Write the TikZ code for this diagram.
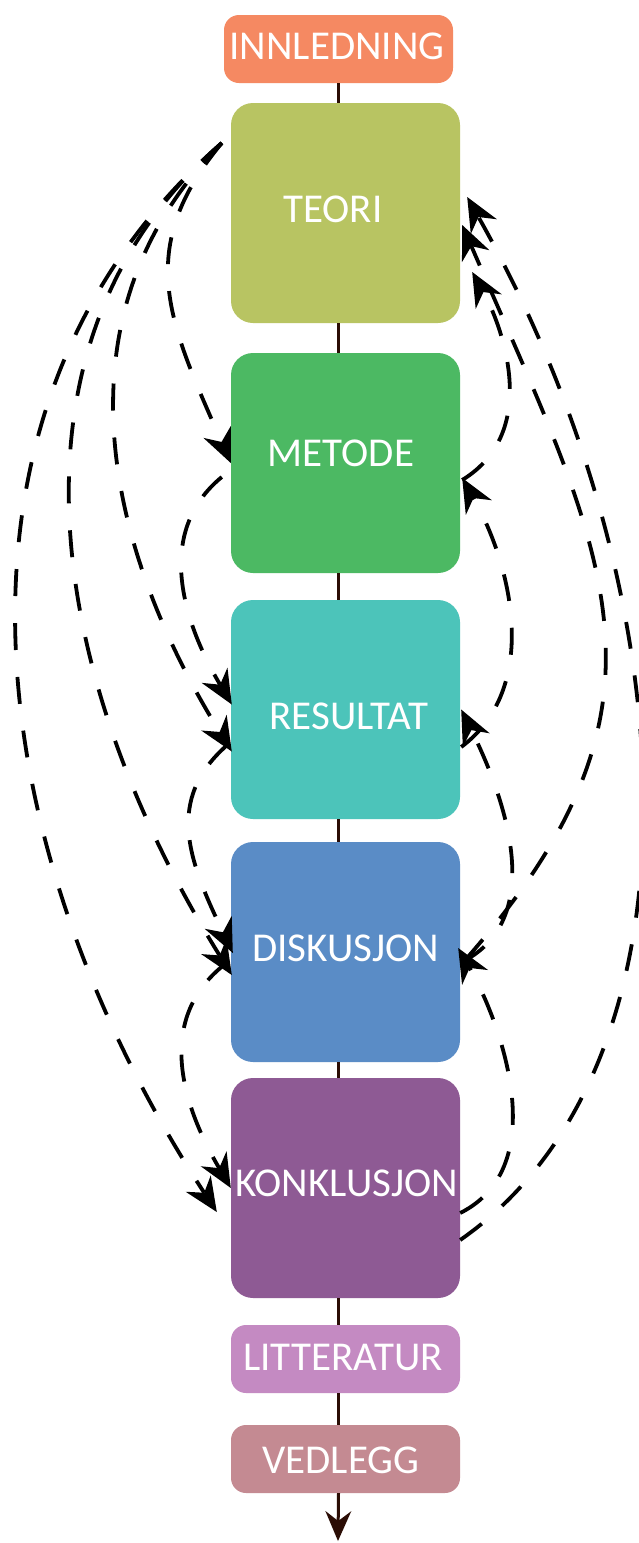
\documentclass[tikz,border=0pt]{standalone}
\usepackage{fontspec}
\setmainfont{Carlito}
\usetikzlibrary{arrows.meta}
\definecolor{cInn}{HTML}{F58962}
\definecolor{cTeo}{HTML}{B8C462}
\definecolor{cMet}{HTML}{4CB963}
\definecolor{cRes}{HTML}{4CC4BA}
\definecolor{cDis}{HTML}{5A8CC6}
\definecolor{cKon}{HTML}{8E5A94}
\definecolor{cLit}{HTML}{C48AC2}
\definecolor{cVed}{HTML}{C48A92}
\definecolor{spinecol}{HTML}{2B0D05}
\newcommand{\boxtext}[3]{\raisebox{#2}{\makebox[0pt]{\hspace*{#1}#3}}}
\begin{document}
\begin{tikzpicture}[x=1pt,y=-1pt,
  chapter/.style={draw=none, rounded corners=22pt, minimum width=229pt, minimum height=220pt,
    inner sep=0pt, text=white, font=\fontsize{41}{41}\selectfont, text height=27pt, text depth=0pt},
  smallbox/.style={chapter, rounded corners=15pt, minimum height=68pt},
  spine/.style={draw=spinecol, line width=3pt},
  link/.style={draw=black, line width=3.8pt, dash pattern=on 27pt off 27pt,
    -{Stealth[length=34pt,width=30pt,inset=11pt,line width=0pt]}}
]
\clip (0,0) rectangle (639,1543);
\fill[white] (0,0) rectangle (639,1543);

% boxes
\node[smallbox, fill=cInn] (innledning) at (338.5,49) {\boxtext{-3pt}{3pt}{INNLEDNING}};
\node[chapter, fill=cTeo] (teori) at (345.5,213) {\boxtext{-25pt}{4.5pt}{TEORI}};
\node[chapter, fill=cMet] (metode) at (345.5,463) {\boxtext{-9pt}{10pt}{METODE}};
\node[chapter, fill=cRes, minimum height=219pt] (resultat) at (345.5,709.5) {\boxtext{7pt}{-6.5pt}{RESULTAT}};
\node[chapter, fill=cDis] (diskusjon) at (345.5,952) {\boxtext{0pt}{4.5pt}{DISKUSJON}};
\node[chapter, fill=cKon] (konklusjon) at (345.5,1188) {\boxtext{2pt}{5.5pt}{KONKLUSJON}};
\node[smallbox, fill=cLit] (litteratur) at (345.5,1359) {\boxtext{-5pt}{2.5pt}{LITTERATUR}};
\node[smallbox, fill=cVed] (vedlegg) at (345.5,1459) {\boxtext{-9pt}{-1pt}{VEDLEGG}};

% spine
\coordinate (bottom) at (338,1541);
\draw[spine] (innledning.south) -- (innledning.south |- teori.north);
\draw[spine] (innledning.south |- teori.south) -- (innledning.south |- metode.north);
\draw[spine] (innledning.south |- metode.south) -- (innledning.south |- resultat.north);
\draw[spine] (innledning.south |- resultat.south) -- (innledning.south |- diskusjon.north);
\draw[spine] (innledning.south |- diskusjon.south) -- (innledning.south |- konklusjon.north);
\draw[spine] (innledning.south |- konklusjon.south) -- (innledning.south |- litteratur.north);
\draw[spine] (innledning.south |- litteratur.south) -- (innledning.south |- vedlegg.north);
\draw[spine, -{Stealth[length=30pt,width=26pt,inset=10pt,line width=0pt]}] (innledning.south |- vedlegg.south) -- (bottom);

% left (forward) links
\draw[link] ([shift={(-9,-70)}]teori.west) .. controls (-80,407) and (-21,848) .. ([shift={(-14,24)}]konklusjon.west);
\draw[link] ([shift={(-9,-70)}]teori.west) .. controls (-9,343) and (47,678) .. ([shift={(1,23)}]diskusjon.west);
\draw[link] ([shift={(-9,-70)}]teori.west) .. controls (55,310) and (101,540) .. ([shift={(1,42)}]resultat.west);
\draw[link] ([shift={(-9,-70)}]teori.west) .. controls (133,250) and (169,322) .. (metode.west);
\draw[link] ([shift={(-9,14)}]metode.west) .. controls (155,532) and (182,620) .. ([shift={(1,-5)}]resultat.west);
\draw[link] ([shift={(-3,35)}]resultat.west) .. controls (164,800) and (189,861) .. ([shift={(2,1)}]diskusjon.west);
\draw[link] ([shift={(-3,10)}]diskusjon.west) .. controls (158,1014) and (177,1096) .. (konklusjon.west);

% right (backward) links
\draw[link] ([shift={(0,25)}]konklusjon.east) .. controls (554,1166) and (500,1021) .. ([shift={(-2,-4)}]diskusjon.east);
\draw[link] ([shift={(0,52)}]konklusjon.east) .. controls (714,1063) and (689,591) .. ([shift={(7,-16)}]teori.east);
\draw[link] ([shift={(2,10)}]diskusjon.east) .. controls (550,917) and (502,792) .. ([shift={(1,0)}]resultat.east);
\draw[link] ([shift={(5,8)}]diskusjon.east) .. controls (693,701) and (606,557) .. ([shift={(2,12)}]teori.east);
\draw[link] ([shift={(1,37.5)}]resultat.east) .. controls (539,689) and (514,570) .. ([shift={(2,15)}]metode.east);
\draw[link] ([shift={(2,17)}]metode.east) .. controls (544,430) and (499,320) .. ([shift={(12,59)}]teori.east);
\end{tikzpicture}
\end{document}
